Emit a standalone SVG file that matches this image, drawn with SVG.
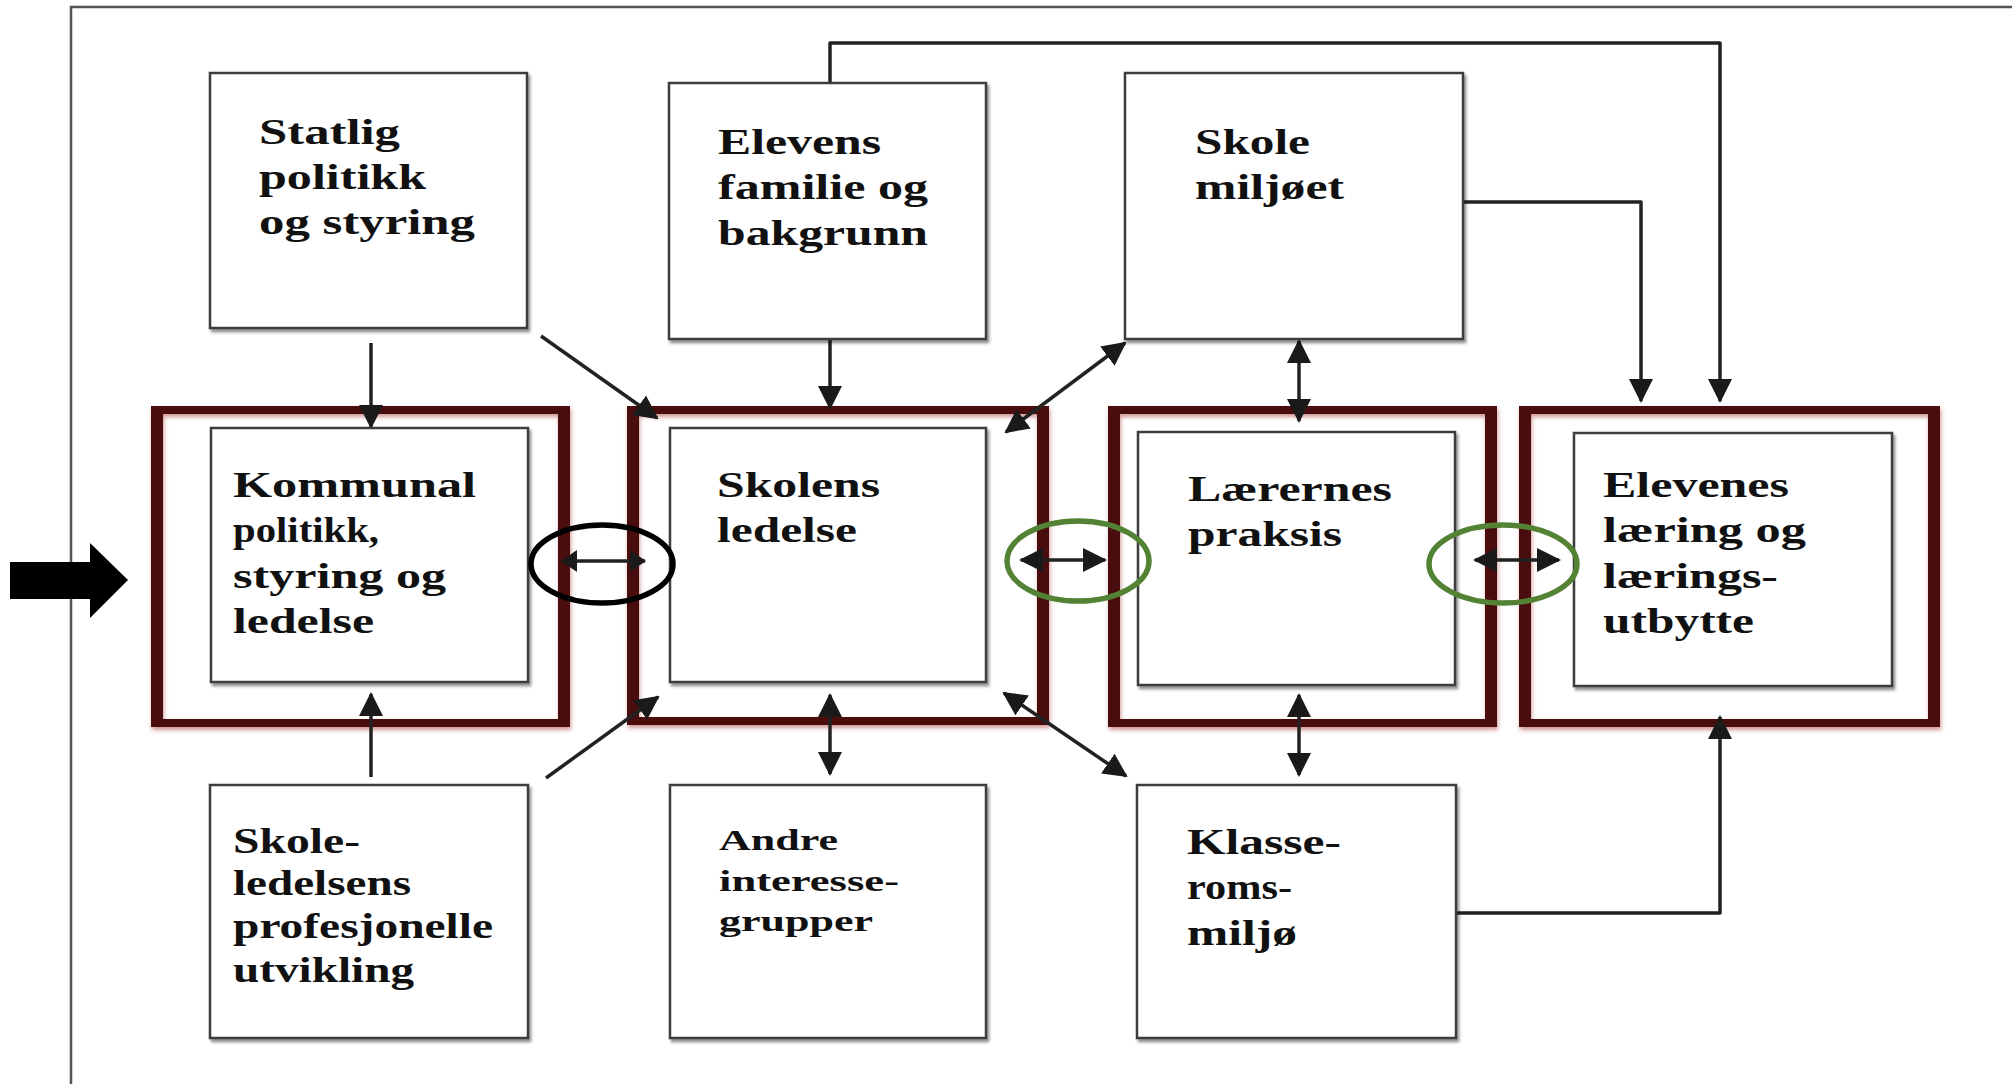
<svg xmlns="http://www.w3.org/2000/svg" width="2012" height="1084" viewBox="0 0 2012 1084">
<style>
.box{fill:#fff;stroke:#3c3c3c;stroke-width:2.5;filter:url(#sh)}
.frame{fill:#4a0808;fill-rule:evenodd;filter:url(#glow)}
.t{font-family:"Liberation Serif","Times New Roman",serif;font-weight:bold;font-size:35px;fill:#111}
.ts{font-size:29px}
.c{fill:none;stroke:#222;stroke-width:3.5;stroke-linejoin:round}
.one{marker-end:url(#ah)}
.two{marker-start:url(#ah);marker-end:url(#ah)}
.twos{marker-start:url(#ahs);marker-end:url(#ahs)}
.ring{fill:none;stroke-width:5.5}
</style>
<defs>
<filter id="sh" x="-5%" y="-5%" width="115%" height="115%">
<feDropShadow dx="2" dy="3" stdDeviation="1.5" flood-color="#000" flood-opacity="0.45"/>
</filter>
<filter id="glow" x="-5%" y="-5%" width="110%" height="110%">
<feDropShadow dx="1" dy="3" stdDeviation="2" flood-color="#a03030" flood-opacity="0.5"/>
</filter>
<marker id="ah" markerUnits="userSpaceOnUse" viewBox="0 0 24 24" markerWidth="24" markerHeight="24" refX="22" refY="12" orient="auto-start-reverse">
<path d="M0,0 L24,12 L0,24 z" fill="#1a1a1a"/>
</marker>
<marker id="ahs" markerUnits="userSpaceOnUse" viewBox="0 0 16 22" markerWidth="16" markerHeight="22" refX="15" refY="11" orient="auto-start-reverse">
<path d="M0,0 L16,11 L0,22 z" fill="#1a1a1a"/>
</marker>
</defs>
<rect width="2012" height="1084" fill="#fff"/>
<g id="outer-frame">
<path d="M71,1084 V7 H2012" fill="none" stroke="#555" stroke-width="2.5"/>
</g>
<g id="entry-arrow">
<path d="M10,562 H90 V543 L128,580 L90,618 V599 H10 z" fill="#000"/>
</g>
<g id="frames">
<path class="frame" d="M151,406 H570 V727 H151 z M163,414 V719 H558 V414 z"/>
<path class="frame" d="M627,406 H1049 V725 H627 z M639,414 V717 H1037 V414 z"/>
<path class="frame" d="M1108,406 H1497 V727 H1108 z M1120,414 V719 H1485 V414 z"/>
<path class="frame" d="M1519,406 H1940 V727 H1519 z M1531,414 V719 H1928 V414 z"/>
</g>
<g id="connectors">
<path class="c one" d="M371,343 V427"/>
<path class="c one" d="M541,336 L657,418"/>
<path class="c one" d="M830,339 V408"/>
<path class="c one" d="M830,83 V43 H1720 V401"/>
<path class="c one" d="M1463,202 H1641 V401"/>
<path class="c two" d="M1299,341 V421"/>
<path class="c two" d="M1006,432 L1125,343"/>
<path class="c twos" d="M562,561 H645"/>
<path class="c two" d="M1021,560 H1105"/>
<path class="c two" d="M1475,560 H1559"/>
<path class="c one" d="M371,777 V694"/>
<path class="c one" d="M546,778 L658,697"/>
<path class="c two" d="M830,695 V774"/>
<path class="c two" d="M1004,693 L1126,776"/>
<path class="c two" d="M1299,695 V775"/>
<path class="c one" d="M1456,913 H1720 V717"/>
</g>
<g id="n-statlig">
<rect class="box" x="210" y="73" width="317" height="255"/>
<text class="t"><tspan x="259" y="144" textLength="141" lengthAdjust="spacingAndGlyphs">Statlig</tspan><tspan x="259" y="189" textLength="167" lengthAdjust="spacingAndGlyphs">politikk</tspan><tspan x="259" y="234" textLength="216" lengthAdjust="spacingAndGlyphs">og styring</tspan></text>
</g>
<g id="n-familie">
<rect class="box" x="669" y="83" width="317" height="256"/>
<text class="t"><tspan x="718" y="154" textLength="163" lengthAdjust="spacingAndGlyphs">Elevens</tspan><tspan x="718" y="199" textLength="210" lengthAdjust="spacingAndGlyphs">familie og</tspan><tspan x="718" y="245" textLength="210" lengthAdjust="spacingAndGlyphs">bakgrunn</tspan></text>
</g>
<g id="n-skolemiljo">
<rect class="box" x="1125" y="73" width="338" height="266"/>
<text class="t"><tspan x="1195" y="154" textLength="115" lengthAdjust="spacingAndGlyphs">Skole</tspan><tspan x="1195" y="199" textLength="149" lengthAdjust="spacingAndGlyphs">miljøet</tspan></text>
</g>
<g id="n-kommunal">
<rect class="box" x="211" y="428" width="317" height="254"/>
<text class="t"><tspan x="233" y="497" textLength="243" lengthAdjust="spacingAndGlyphs">Kommunal</tspan><tspan x="233" y="542" textLength="146" lengthAdjust="spacingAndGlyphs">politikk,</tspan><tspan x="233" y="588" textLength="213" lengthAdjust="spacingAndGlyphs">styring og</tspan><tspan x="233" y="633" textLength="141" lengthAdjust="spacingAndGlyphs">ledelse</tspan></text>
</g>
<g id="n-skolensledelse">
<rect class="box" x="670" y="428" width="316" height="254"/>
<text class="t"><tspan x="717" y="497" textLength="163" lengthAdjust="spacingAndGlyphs">Skolens</tspan><tspan x="717" y="542" textLength="140" lengthAdjust="spacingAndGlyphs">ledelse</tspan></text>
</g>
<g id="n-laerernes">
<rect class="box" x="1138" y="432" width="317" height="253"/>
<text class="t"><tspan x="1188" y="501" textLength="204" lengthAdjust="spacingAndGlyphs">Lærernes</tspan><tspan x="1188" y="546" textLength="154" lengthAdjust="spacingAndGlyphs">praksis</tspan></text>
</g>
<g id="n-elevenes">
<rect class="box" x="1574" y="433" width="318" height="253"/>
<text class="t"><tspan x="1603" y="497" textLength="186" lengthAdjust="spacingAndGlyphs">Elevenes</tspan><tspan x="1603" y="542" textLength="203" lengthAdjust="spacingAndGlyphs">læring og</tspan><tspan x="1603" y="588" textLength="175" lengthAdjust="spacingAndGlyphs">lærings-</tspan><tspan x="1603" y="633" textLength="151" lengthAdjust="spacingAndGlyphs">utbytte</tspan></text>
</g>
<g id="n-skoleledelsens">
<rect class="box" x="210" y="785" width="318" height="253"/>
<text class="t"><tspan x="233" y="853" textLength="127" lengthAdjust="spacingAndGlyphs">Skole-</tspan><tspan x="233" y="895" textLength="178" lengthAdjust="spacingAndGlyphs">ledelsens</tspan><tspan x="233" y="938" textLength="260" lengthAdjust="spacingAndGlyphs">profesjonelle</tspan><tspan x="233" y="982" textLength="181" lengthAdjust="spacingAndGlyphs">utvikling</tspan></text>
</g>
<g id="n-andre">
<rect class="box" x="670" y="785" width="316" height="253"/>
<text class="t ts"><tspan x="719" y="850" textLength="119" lengthAdjust="spacingAndGlyphs">Andre</tspan><tspan x="719" y="891" textLength="180" lengthAdjust="spacingAndGlyphs">interesse-</tspan><tspan x="719" y="931" textLength="154" lengthAdjust="spacingAndGlyphs">grupper</tspan></text>
</g>
<g id="n-klasse">
<rect class="box" x="1137" y="785" width="319" height="253"/>
<text class="t"><tspan x="1187" y="854" textLength="154" lengthAdjust="spacingAndGlyphs">Klasse-</tspan><tspan x="1187" y="899" textLength="105" lengthAdjust="spacingAndGlyphs">roms-</tspan><tspan x="1187" y="945" textLength="110" lengthAdjust="spacingAndGlyphs">miljø</tspan></text>
</g>
<g id="rings">
<ellipse class="ring" cx="602" cy="564" rx="71" ry="39" stroke="#000"/>
<ellipse class="ring" cx="1078" cy="561" rx="71" ry="40" stroke="#548235"/>
<ellipse class="ring" cx="1503" cy="564" rx="74" ry="39" stroke="#548235"/>
</g>
</svg>
